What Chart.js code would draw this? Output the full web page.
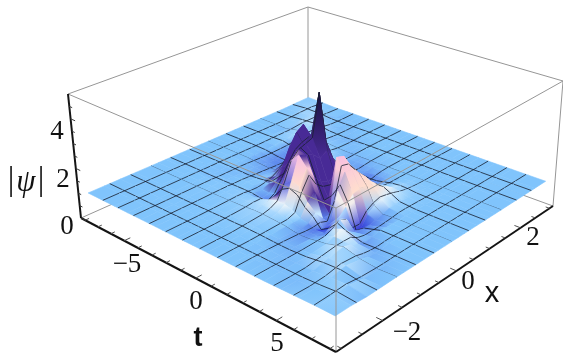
<!DOCTYPE html>
<html>
<head>
<meta charset="utf-8">
<style>
  html, body { margin: 0; background: #fff; }
  canvas { display: block; filter: blur(0.55px); }
</style>
<script src="https://cdn.jsdelivr.net/npm/chart.js@4/dist/chart.umd.min.js"></script>
</head>
<body>
<canvas id="chart" width="563" height="358"></canvas>
<script>
// --- DATA ---
const tValues = [-8,-7,-6,-5,-4,-3.5,-3,-2.5,-2,-1.5,-1,-.5,0,.5,1,1.5,2,2.5,3,3.5,4,5,6,7,8];
const xValues = [-3,-2.625,-2.25,-1.875,-1.5,-1.3125,-1.125,-.9375,-.75,-.5625,-.375,-.1875,0,.1875,.375,.5625,.75,.9375,1.125,1.3125,1.5,1.875,2.25,2.625,3];
// one row per x value, one column per t value
const psiRows = [
  [1,1,1,1,1,1,1,1,1,1,1,1,1,1,1,1,1,1,1,1,1,1.01,1.02,1.03,1.02],
  [1,1,1,1,1,1,1,1,1,1,1,1,1,1,1,1,1,1,.99,.99,.99,.98,1,1.05,1.02],
  [1,1,1,1,1,1,1,1,1,1,1,1,1,1,1,1,.99,.99,.98,.98,.98,.99,1.04,1.08,.98],
  [1,1,1,1,1,1,1,1.01,1.01,1.02,1.03,1.03,1.04,1.03,1.02,1,.98,.96,.96,.98,1,1.12,1.14,.98,.99],
  [1,1,1,1,1.01,1.01,1.01,1.02,1.03,1.04,1.06,1.08,1.08,1.06,1.04,1.01,.95,.92,.94,1,1.04,1.22,1.04,.97,1],
  [1,1,1,1,1.01,1.01,1.02,1.03,1.04,1.06,1.1,1.14,1.15,1.12,1.06,1,.92,.88,.92,1.02,1.16,1.14,.97,.98,1],
  [1,1,1,1,1.01,1.01,1.02,1.03,1.03,1.05,1.1,1.22,1.3,1.3,1.2,1.02,.95,.84,.85,1.15,1.3,1.02,.96,.99,1],
  [1,1,1,.99,.99,1,1,1,.98,.9,.85,1.3,1.85,2.1,1.95,1.5,1.2,.72,1,1.35,1.05,.92,.98,1,1],
  [1,1,1,.99,.99,1,1.01,1,.96,.95,1.05,1.7,2.6,2.95,2.55,1.75,.85,.8,1.15,1.2,.85,.96,1,1,1],
  [1,1,1,1,.98,.98,1,1.02,1.05,1.25,1.55,2.2,2.9,2.8,2.05,1.25,.85,1.9,1.4,.62,.82,1,1,1,1],
  [1,1,1,1,.98,.96,.98,1.05,1.2,1.7,2.05,2.5,3,2.7,1.75,1.2,2.95,2.5,1.75,.55,.82,1,1,1,1],
  [1,1,1,1,.96,.94,.96,1.12,1.5,2.4,2.35,2.6,3.1,2.4,1.6,1.3,2.85,2.45,1.85,.95,.88,1,1,1,1],
  [1,1,1,.99,.94,.92,.96,1.3,1.9,2.85,2.4,3,4.8,2.6,1.7,1.35,2.35,2.2,1.8,1.15,.95,1,1,1,1],
  [1,1,1,.99,.9,.88,1.05,1.55,2.3,3.05,2.45,2.3,2.7,2.05,1.45,1.2,1.75,1.9,1.65,1.28,1.04,1,1,1,1],
  [1,1,1,.98,.88,.86,1.1,1.6,2.2,2.5,2,1.8,1.9,1.6,1.25,1.08,1.3,1.55,1.48,1.25,1.06,1,1,1,1],
  [1,1,1,.98,.9,.9,1.12,1.45,1.7,1.8,1.45,1.35,1.4,1.25,.98,.88,1.05,1.3,1.32,1.2,1.05,1,1,1,1],
  [1,1,1,1,.88,.9,1.05,1.25,1.35,1.3,1.15,1.12,1.12,1.02,.84,.82,.95,1.12,1.16,1.12,1.04,1,1,1,1],
  [1,1,1,1.02,.88,.95,1.08,1.15,1.2,1.1,1.02,.98,.96,.9,.84,.86,.95,1.04,1.08,1.06,1.02,1,1,1,1],
  [1,1,1,1.04,.92,1,1.1,1.1,1.08,1.02,.96,.93,.92,.91,.92,.94,.98,1.01,1.03,1.03,1.01,1,1,1,1],
  [1,1,.99,1.08,1,1.08,1.08,1.05,1.02,.98,.96,.95,.95,.96,.97,.98,1,1,1.01,1.01,1,1,1,1,1],
  [1,1,.98,1.12,1.1,1.06,1.03,1,.98,.97,.98,.98,.98,.98,.99,1,1,1,1,1,1,1,1,1,1],
  [1,1,1.05,1.15,1.02,1,.97,.97,.98,.99,1,1,1,1,1,1,1,1,1,1,1,1,1,1,1],
  [1,1.03,1.1,1.02,.98,.98,.99,1,1,1,1,1,1,1,1,1,1,1,1,1,1,1,1,1,1],
  [1.02,1.07,1.02,.98,.99,1,1,1,1,1,1,1,1,1,1,1,1,1,1,1,1,1,1,1,1],
  [1.03,1.02,.99,1,1,1,1,1,1,1,1,1,1,1,1,1,1,1,1,1,1,1,1,1,1]
];
const tTickLabels = [-5, 0, 5];
const xTickLabels = [-2, 0, 2];
const zTickLabels = [0, 2, 4];
const T_MESH_CELLS = 14, X_MESH_CELLS = 12;

// --- 3D BOX -> PLANE ---
const T_RANGE = 8 / 0.96, X_RANGE = 3 / 0.96, Z_TOP = 5;
const floorMap = squareToQuad([81, 218], [336, 352], [553, 206], [308, 117]);
const roofMap = squareToQuad([68, 94], [336, 208], [563, 81], [308, 7]);

function squareToQuad(p0, p1, p2, p3) {
    const dx1 = p1[0] - p2[0], dx2 = p3[0] - p2[0], sx = p0[0] - p1[0] + p2[0] - p3[0];
    const dy1 = p1[1] - p2[1], dy2 = p3[1] - p2[1], sy = p0[1] - p1[1] + p2[1] - p3[1];
    const det = dx1 * dy2 - dx2 * dy1;
    const g = (sx * dy2 - dx2 * sy) / det, h = (dx1 * sy - sx * dy1) / det;
    return (u, v) => {
        const w = g * u + h * v + 1;
        return [
            ((p1[0] - p0[0] + g * p1[0]) * u + (p3[0] - p0[0] + h * p3[0]) * v + p0[0]) / w,
            ((p1[1] - p0[1] + g * p1[1]) * u + (p3[1] - p0[1] + h * p3[1]) * v + p0[1]) / w
        ];
    };
}

function project(t, x, z) {
    const u = (t + T_RANGE) / (2 * T_RANGE), v = (x + X_RANGE) / (2 * X_RANGE);
    const a = floorMap(u, v), b = roofMap(u, v), k = z / Z_TOP;
    return { x: a[0] + (b[0] - a[0]) * k, y: a[1] + (b[1] - a[1]) * k };
}

// --- SURFACE COLOUR ---
function mix(a, b, k) {
    k = Math.max(0, Math.min(1, k));
    return a.map((c, i) => c + (b[i] - c) * k);
}

// colour of the surface at a table node, from its height and slopes
function nodeColor(i, j) {
    const iA = Math.max(i - 1, 0), iB = Math.min(i + 1, tValues.length - 1);
    const jA = Math.max(j - 1, 0), jB = Math.min(j + 1, xValues.length - 1);
    const t = tValues[i], x = xValues[j], z = psiRows[j][i];
    const gt = (psiRows[j][iB] - psiRows[j][iA]) / (tValues[iB] - tValues[iA]);
    const gx = (psiRows[jB][i] - psiRows[jA][i]) / (xValues[jB] - xValues[jA]);
    const facing = -gx * 0.35 - gt * 0.6;
    let c = [128, 196, 252];
    if (z < 1) {
        c = mix(c, [48, 58, 215], (1 - z) / 0.3);
    } else {
        c = mix(c, [235, 248, 255], (z - 1) / 0.3);
        c = mix(c, [255, 222, 205], (z - 1.25) / 0.4);
        c = mix(c, [248, 190, 225], (z - 2) / 0.9);
    }
    if (z < 2) c = mix(c, [50, 70, 225], (gt - 0.35) / 0.6);
    if (z < 2 && gt > 0.9) c = [72, 42, 160];
    if (t <= 1.5 && x > -0.6 && x < 0.2 && z > 1.15) c = [72, 42, 150];
    if (t <= 1 && x > -0.6 && z > 1.9) c = [72, 42, 150];
    c = mix(c, [72, 42, 150], (facing - 0.95) / 0.25);
    c = mix(c, [25, 18, 60], (z - 4) / 0.6);
    return c;
}

const rgb = c => `rgb(${c.map(Math.round).join(',')})`;
const canvas = document.getElementById('chart');
const paint = canvas.getContext('2d');

// smooth shade over one cell, along the diagonal where the colour changes most
function cellFill(i, j) {
    const corners = [[i, j], [i + 1, j], [i + 1, j + 1], [i, j + 1]];
    const cols = corners.map(n => nodeColor(n[0], n[1]));
    const pts = corners.map(n => nodePoint(n[0], n[1]));
    const diff = (a, b) => a.reduce((s, v, k) => s + Math.abs(v - b[k]), 0);
    const d = diff(cols[0], cols[2]) >= diff(cols[1], cols[3]) ? [0, 2] : [1, 3];
    const g = paint.createLinearGradient(pts[d[0]].x, pts[d[0]].y, pts[d[1]].x, pts[d[1]].y);
    g.addColorStop(0, rgb(cols[d[0]]));
    g.addColorStop(1, rgb(cols[d[1]]));
    return g;
}

// --- DATASETS (back to front) ---
const MESH_COLOR = 'rgba(25,32,48,0.9)';
const layers = [];

function addLine(points, color, width) {
    layers.push({ data: points, showLine: true, pointRadius: 0, borderColor: color, borderWidth: width, fill: false, tension: 0 });
}
function boxLine(a, b, color, width) {
    addLine([project(a[0], a[1], a[2]), project(b[0], b[1], b[2])], color, width);
}
const nodePoint = (i, j) => project(tValues[i], xValues[j], psiRows[j][i]);

// mesh values falling inside one table step
function meshInside(from, to, low, cells) {
    const step = -2 * low / cells, found = [];
    for (let k = 1; k < cells; k++) {
        const m = low + k * step;
        if (m >= from && m < to) found.push(m);
    }
    return found;
}

// mesh lines crossing one cell, lying on its edges' heights
function addCellMesh(i, j) {
    const t0 = tValues[i], t1 = tValues[i + 1], x0 = xValues[j], x1 = xValues[j + 1];
    const z00 = psiRows[j][i], z10 = psiRows[j][i + 1], z01 = psiRows[j + 1][i], z11 = psiRows[j + 1][i + 1];
    meshInside(t0, t1, -8, T_MESH_CELLS).forEach(m => {
        const k = (m - t0) / (t1 - t0);
        addLine([project(m, x0, z00 + (z10 - z00) * k), project(m, x1, z01 + (z11 - z01) * k)], MESH_COLOR, 0.9);
    });
    meshInside(x0, x1, -3, X_MESH_CELLS).forEach(m => {
        const k = (m - x0) / (x1 - x0);
        addLine([project(t0, m, z00 + (z01 - z00) * k), project(t1, m, z10 + (z11 - z10) * k)], MESH_COLOR, 0.9);
    });
}

const GREY = 'rgb(150,150,150)';
const T = T_RANGE, X = X_RANGE;
// back edges of the box
boxLine([-T, -X, 0], [-T, X, 0], GREY, 1);
boxLine([-T, X, 0], [T, X, 0], GREY, 1);
boxLine([-T, X, 0], [-T, X, Z_TOP], GREY, 1);
boxLine([-T, -X, Z_TOP], [-T, X, Z_TOP], GREY, 1);
boxLine([-T, X, Z_TOP], [T, X, Z_TOP], GREY, 1);
boxLine([T, X, 0], [T, X, Z_TOP], GREY, 1);

for (let i = 0; i < tValues.length - 1; i++) {
    for (let j = xValues.length - 2; j >= 0; j--) {
        const fillStyle = cellFill(i, j);
        layers.push({
            data: [nodePoint(i, j), nodePoint(i + 1, j), nodePoint(i + 1, j + 1), nodePoint(i, j + 1), nodePoint(i, j)],
            showLine: true, pointRadius: 0, borderColor: fillStyle, borderWidth: 0.6,
            backgroundColor: fillStyle, fill: 'shape', tension: 0
        });
        addCellMesh(i, j);
    }
}

// front edges of the box, over the surface
boxLine([T, -X, 0], [T, -X, Z_TOP], GREY, 1);
boxLine([-T, -X, Z_TOP], [T, -X, Z_TOP], GREY, 1);
boxLine([T, -X, Z_TOP], [T, X, Z_TOP], GREY, 1);

// axes and tick marks
const AXIS = 'rgb(20,20,20)';
boxLine([-T, -X, 0], [T, -X, 0], AXIS, 2);
boxLine([T, -X, 0], [T, X, 0], AXIS, 2);
boxLine([-T, -X, 0], [-T, -X, Z_TOP], AXIS, 2);
for (let t = -8; t <= 8; t++) {
    const len = t % 5 === 0 ? 0.14 : 0.09;
    boxLine([t, -X, 0], [t, -X + len, 0], 'rgb(80,80,80)', 1);
}
for (let x = -3; x <= 3; x += 0.5) {
    const len = x % 2 === 0 ? 0.35 : 0.22;
    boxLine([T - len, x, 0], [T, x, 0], 'rgb(80,80,80)', 1);
}
for (let z = 0; z <= 4.5; z += 0.5) {
    const len = z % 2 === 0 ? 0.35 : 0.22;
    boxLine([-T, -X, z], [-T + len, -X, z], 'rgb(60,60,60)', 1);
}

// --- TEXT ---
const MINUS = '\u2212';
const fmt = v => (v < 0 ? MINUS + Math.abs(v) : String(v));
const tLabelSpots = [[127, 265], [196, 302], [277, 344]];
const xLabelSpots = [[407, 333], [468, 282], [533, 238]];
const zLabelSpots = [[67, 227], [63, 180], [57, 132]];

const textPlugin = {
    id: 'boxText',
    afterDraw(chart) {
        const { ctx, scales } = chart;
        const put = (text, spot, font) => {
            ctx.font = font;
            ctx.fillText(text, scales.x.getPixelForValue(spot[0]), scales.y.getPixelForValue(spot[1]));
        };
        ctx.save();
        ctx.fillStyle = '#111';
        ctx.textAlign = 'center';
        ctx.textBaseline = 'middle';
        const serif = '27px "Liberation Serif"';
        tTickLabels.forEach((v, i) => put(fmt(v), tLabelSpots[i], serif));
        xTickLabels.forEach((v, i) => put(fmt(v), xLabelSpots[i], serif));
        zTickLabels.forEach((v, i) => put(fmt(v), zLabelSpots[i], serif));
        put('t', [198, 339], 'bold 27px "Liberation Sans"');
        put('x', [492, 294], '29px "Liberation Sans"');
        put('|', [11, 181], '33px "Liberation Serif"');
        put('\u03C8', [26, 183], 'italic 31px "Liberation Serif"');
        put('|', [41, 181], '33px "Liberation Serif"');
        ctx.restore();
    }
};

new Chart(canvas, {
    type: 'scatter',
    data: { datasets: layers.reverse() },
    options: {
        responsive: false,
        animation: false,
        layout: { padding: 0 },
        plugins: { legend: { display: false }, tooltip: { enabled: false } },
        scales: {
            x: { type: 'linear', min: 0, max: 563, display: false },
            y: { type: 'linear', min: 0, max: 358, reverse: true, display: false }
        }
    },
    plugins: [textPlugin]
});
</script>
</body>
</html>
